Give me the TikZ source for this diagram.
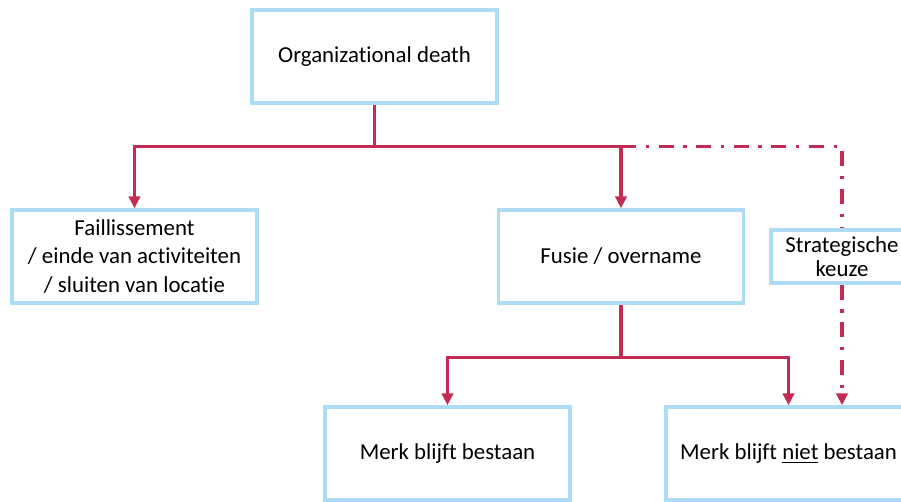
\documentclass[tikz,border=0pt]{standalone}
\usepackage{fontspec}
\setmainfont[Ligatures=NoCommon]{Carlito}
\usepackage{tikz}
\usetikzlibrary{arrows.meta, positioning, calc}

\definecolor{boxblue}{RGB}{174,220,245}
\definecolor{linkred}{RGB}{194,44,82}

\tikzset{
	box/.style={draw=boxblue, line width=2pt, fill=white, minimum width=4.9cm, minimum height=1.86cm, align=center, text=black, font=\fontsize{13}{16}\selectfont},
	smallbox/.style={box, minimum width=2.84cm, minimum height=1.06cm, inner sep=1pt, font=\fontsize{13}{13.6}\selectfont},
	link/.style={draw=linkred, line width=1.9pt},
	linkarrow/.style={link, -{Triangle[width=6.5pt,length=6.8pt]}},
	dashdot/.style={dash pattern=on 8.5pt off 5.5pt on 1.9pt off 5.5pt}
}

\begin{document}
\begin{tikzpicture}
	\useasboundingbox (0,0) rectangle (18.02,-10.02);
	% boxes
	\node[box] (death) at (7.49,-1.13) {Organizational death};
	\node[box] (fail) at (2.69,-5.13) {Faillissement\\/ einde van activiteiten\\/ sluiten van locatie};
	\node[box] (fusie) at (12.42,-5.13) {Fusie / overname};
	\node[smallbox] (strat) at (16.84,-5.13) {Strategische\\keuze};
	\node[box] (blijft) at (8.95,-9.07) {Merk blijft bestaan};
	\node[box] (niet) at (15.77,-9.07) {Merk blijft \underline{niet} bestaan};

	% first split
	\draw[link] (death.south) -- ++(0,-0.84) coordinate (bus);
	\draw[linkarrow] (bus) -| (fail.north);
	\draw[linkarrow] (bus) -| (fusie.north);
	\draw[link, dashdot] (fusie.north |- bus) -| (strat.north);
	\draw[linkarrow, dashdot] (strat.south) -- (strat.south |- niet.north);

	% second split
	\draw[link] (fusie.south) -- ++(0,-1.06) coordinate (bus2);
	\draw[linkarrow] (bus2) -| (blijft.north);
	\draw[linkarrow] (bus2) -| (niet.north);
\end{tikzpicture}
\end{document}
